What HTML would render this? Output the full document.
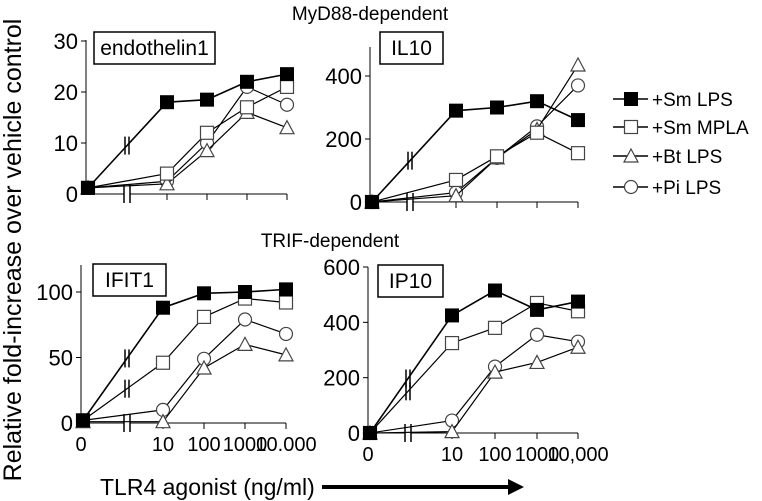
<!DOCTYPE html>
<html><head><meta charset="utf-8"><style>
body{margin:0;background:#fff}
svg{display:block;font-family:"Liberation Sans",Arial,sans-serif}
</style></head><body>
<svg id="c" width="762" height="501" viewBox="0 0 762 501">
<text x="370" y="20" font-size="19" text-anchor="middle">MyD88-dependent</text>
<text x="330" y="247" font-size="19" text-anchor="middle">TRIF-dependent</text>
<text transform="translate(21,250) rotate(-90)" font-size="25" text-anchor="middle">Relative fold-increase over vehicle control</text>
<text x="100" y="495" font-size="23">TLR4 agonist (ng/ml)</text>
<line x1="322" y1="487" x2="510" y2="487" stroke="#000" stroke-width="4"/>
<polygon points="508,479 524,487 508,495" fill="#000"/>
</svg>
<script>
const concLabels=["0","10","100","1000","10000"];
const endoSmLPS=[1.2,18,18.5,22,23.5];
const endoSmMPLA=[1.2,4,12,17,21];
const endoBtLPS=[1.2,2,8.5,16,13];
const endoPiLPS=[1.2,2.5,10,21,17.5];
const il10SmLPS=[0,290,300,320,260];
const il10SmMPLA=[0,70,145,220,155];
const il10BtLPS=[0,20,140,230,435];
const il10PiLPS=[0,30,140,240,370];
const ifitSmLPS=[2,88,99,100,102];
const ifitSmMPLA=[2,46,81,95,92];
const ifitBtLPS=[1,1,42,60,52];
const ifitPiLPS=[2,10,49,79,68];
const ip10SmLPS=[0,425,515,445,475];
const ip10SmMPLA=[0,325,380,470,440];
const ip10BtLPS=[0,5,220,255,310];
const ip10PiLPS=[0,45,240,355,330];
const endoTicks=[0,10,20,30];
const il10Ticks=[0,200,400];
const ifitTicks=[0,50,100];
const ip10Ticks=[0,200,400,600];
const ifitXLabels=["0","10","100","1000","10.000"];
const ip10XLabels=["0","10","100","1000","10,000"];
const legendLabels=["+Sm LPS","+Sm MPLA","+Bt LPS","+Pi LPS"];

const svg=document.getElementById('c');const NS="http://www.w3.org/2000/svg";
function mk(t,a,p){const e=document.createElementNS(NS,t);for(const k in a)e.setAttribute(k,a[k]);(p||svg).appendChild(e);return e;}
function marker(kind,x,y,g){
 let e;
 if(kind==0){e=mk('rect',{x:x-7,y:y-7,width:14,height:14,fill:'#000'},g);}
 else if(kind==1){e=mk('rect',{x:x-6.5,y:y-6.5,width:13,height:13,fill:'#fff',stroke:'#444','stroke-width':1.2},g);}
 else if(kind==2){e=mk('polygon',{points:`${x},${y-7} ${x+7},${y+6} ${x-7},${y+6}`,fill:'#fff',stroke:'#444','stroke-width':1.2},g);}
 else {e=mk('circle',{cx:x,cy:y,r:6.5,fill:'#fff',stroke:'#444','stroke-width':1.2},g);}
 
 
}
function panel(o){
 const g=mk('g',{});
 
 
 const ys=v=>o.y0-(v/o.ymax)*(o.y0-o.ytop);
 const xs=i=>o.xp[i];
 const ax=mk('line',{x1:o.xp[0]-2,y1:o.atop,x2:o.xp[0]-2,y2:o.y0,stroke:'#000','stroke-width':1},g);
 
 const bx=mk('line',{x1:o.xp[0]-2,y1:o.y0,x2:o.xp[4],y2:o.y0,stroke:'#000','stroke-width':1},g);
 
 o.ticks.forEach(t=>{const y=ys(t);
  mk('line',{x1:o.xp[0]-7,y1:y,x2:o.xp[0]-2,y2:y,stroke:'#000'},g);
  const tx=mk('text',{x:o.xp[0]-10,y:y+8,'font-size':22,'text-anchor':'end'},g);tx.textContent=t;
  });
 for(let i=1;i<5;i++)mk('line',{x1:xs(i),y1:o.y0,x2:xs(i),y2:o.y0+6,stroke:'#000'},g);
 mk('rect',{x:o.brk-3,y:o.y0-9,width:6,height:18,fill:'#fff'},g);
 mk('line',{x1:o.brk-3,y1:o.y0-9,x2:o.brk-3,y2:o.y0+9,stroke:'#000','stroke-width':1.5},g);
 mk('line',{x1:o.brk+3,y1:o.y0-9,x2:o.brk+3,y2:o.y0+9,stroke:'#000','stroke-width':1.5},g);
 if(o.xl){o.xl.forEach((l,i)=>{const tx=mk('text',{x:xs(i)+(i==0?-2:0),y:o.y0+28,'font-size':20,'text-anchor':'middle'},g);tx.textContent=l;
  });}
 const br=mk('rect',{x:o.lx,y:o.ly,width:o.lw,height:32,fill:'#fff',stroke:'#000','stroke-width':1.5},g);
 
 const lt=mk('text',{x:o.lx+o.lw/2,y:o.ly+23,'font-size':21,'text-anchor':'middle'},g);lt.textContent=o.label;
 
 [3,2,1,0].forEach(k=>{const d=o.series[k];
  const pts=d.map((v,i)=>xs(i)+','+ys(v)).join(' ');
  const pl=mk('polyline',{points:pts,fill:'none',stroke:'#000','stroke-width':k==0?1.6:1.2},g);
  
  const t=(o.brk-xs(0))/(xs(1)-xs(0));const by=ys(d[0])+t*(ys(d[1])-ys(d[0]));
  if(Math.abs(ys(d[1])-ys(d[0]))>40){
   mk('line',{x1:o.brk-2,y1:by-9,x2:o.brk-2,y2:by+9,stroke:'#000','stroke-width':1.5},g);
   mk('line',{x1:o.brk+2,y1:by-9,x2:o.brk+2,y2:by+9,stroke:'#000','stroke-width':1.5},g);}
  d.forEach((v,i)=>marker(k,xs(i),ys(v),g));
 });
}
panel({name:'endothelin1',label:'endothelin1',xp:[88,167,207,247,287],brk:127,y0:194,ytop:41,atop:40,ymax:30,ticks:endoTicks,lx:94,ly:32,lw:121,
 series:[endoSmLPS,endoSmMPLA,endoBtLPS,endoPiLPS]});
panel({name:'il10',label:'IL10',xp:[372,456,497,537,578],brk:410,y0:202,ytop:76,atop:47,ymax:400,ticks:il10Ticks,lx:380,ly:32,lw:63,
 series:[il10SmLPS,il10SmMPLA,il10BtLPS,il10PiLPS]});
panel({name:'ifit1',label:'IFIT1',xp:[83,163,204,245,286],brk:127,y0:423,ytop:292,atop:265,ymax:100,ticks:ifitTicks,xl:ifitXLabels,lx:93,ly:264,lw:73,
 series:[ifitSmLPS,ifitSmMPLA,ifitBtLPS,ifitPiLPS]});
panel({name:'ip10',label:'IP10',xp:[370,452,495,537,578],brk:408,y0:433,ytop:267,atop:267,ymax:600,ticks:ip10Ticks,xl:ip10XLabels,lx:378,ly:265,lw:65,
 series:[ip10SmLPS,ip10SmMPLA,ip10BtLPS,ip10PiLPS]});
const lg=mk('g',{});


const ly=[99,127,156,187];
legendLabels.forEach((l,k)=>{
 mk('line',{x1:613,y1:ly[k],x2:648,y2:ly[k],stroke:'#000','stroke-width':1.5},lg);
 marker(k,631,ly[k],lg);
 const t=mk('text',{x:652,y:ly[k]+7,'font-size':19},lg);t.textContent=l;
 
 
});
</script>
</body></html>
